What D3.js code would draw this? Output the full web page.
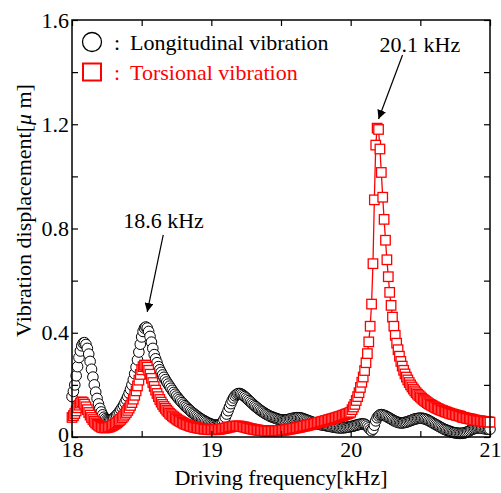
<!DOCTYPE html>
<html>
<head>
<meta charset="utf-8">
<script src="https://cdn.jsdelivr.net/npm/d3@7"></script>
<style>
  text, tspan { font-family: "Liberation Serif", "Times New Roman", serif; }
</style>
</head>
<body style="margin:0">
<div id="chart"></div>
<script>
// sweep: 18.00 -> 21.00 kHz, 0.01 kHz steps
const freq = d3.range(0, 301).map(i => 18 + i / 100);

const longitudinal = [
  0.155, 0.175, 0.2, 0.235, 0.27, 0.305, 0.33, 0.35, 0.36, 0.362,
  0.355, 0.34, 0.318, 0.29, 0.26, 0.23, 0.2, 0.172, 0.148, 0.127,
  0.11, 0.096, 0.085, 0.076, 0.07, 0.066, 0.064, 0.064, 0.066, 0.069,
  0.073, 0.078, 0.084, 0.09, 0.097, 0.105, 0.113, 0.122, 0.132, 0.143,
  0.155, 0.168, 0.183, 0.2, 0.22, 0.243, 0.268, 0.296, 0.326, 0.356,
  0.384, 0.405, 0.418, 0.422, 0.418, 0.405, 0.386, 0.364, 0.34, 0.316,
  0.3, 0.285, 0.27, 0.258, 0.248, 0.238, 0.229, 0.22, 0.211, 0.203,
  0.195, 0.187, 0.179, 0.171, 0.164, 0.157, 0.15, 0.144, 0.138, 0.132,
  0.126, 0.12, 0.115, 0.11, 0.105, 0.1, 0.095, 0.091, 0.087, 0.083,
  0.079, 0.075, 0.071, 0.068, 0.065, 0.062, 0.059, 0.056, 0.053, 0.051,
  0.049, 0.047, 0.046, 0.045, 0.045, 0.046, 0.048, 0.052, 0.058, 0.066,
  0.076, 0.088, 0.101, 0.115, 0.128, 0.14, 0.15, 0.158, 0.163, 0.166,
  0.167, 0.166, 0.163, 0.159, 0.155, 0.15, 0.145, 0.14, 0.135, 0.13,
  0.125, 0.12, 0.116, 0.111, 0.107, 0.103, 0.099, 0.096, 0.092, 0.089,
  0.086, 0.083, 0.08, 0.078, 0.076, 0.074, 0.072, 0.07, 0.068, 0.067,
  0.066, 0.065, 0.065, 0.065, 0.066, 0.067, 0.068, 0.07, 0.071, 0.072,
  0.073, 0.074, 0.074, 0.074, 0.073, 0.072, 0.07, 0.068, 0.066, 0.064,
  0.062, 0.06, 0.058, 0.056, 0.054, 0.052, 0.051, 0.049, 0.048, 0.047,
  0.046, 0.045, 0.044, 0.043, 0.042, 0.041, 0.04, 0.039, 0.038, 0.037,
  0.036, 0.036, 0.035, 0.035, 0.035, 0.036, 0.036, 0.037, 0.038, 0.039,
  0.04, 0.041, 0.042, 0.044, 0.045, 0.047, 0.048, 0.049, 0.05, 0.05,
  0.049, 0.046, 0.041, 0.035, 0.028, 0.024, 0.03, 0.045, 0.062, 0.074,
  0.081, 0.085, 0.086, 0.085, 0.083, 0.081, 0.078, 0.075, 0.072, 0.069,
  0.066, 0.063, 0.06, 0.058, 0.056, 0.055, 0.054, 0.054, 0.055, 0.056,
  0.057, 0.059, 0.061, 0.063, 0.065, 0.067, 0.069, 0.07, 0.071, 0.072,
  0.072, 0.072, 0.071, 0.07, 0.068, 0.066, 0.063, 0.06, 0.057, 0.054,
  0.051, 0.048, 0.045, 0.042, 0.039, 0.036, 0.033, 0.03, 0.028, 0.026,
  0.024, 0.022, 0.02, 0.018, 0.017, 0.016, 0.015, 0.014, 0.014, 0.014,
  0.014, 0.015, 0.016, 0.018, 0.02, 0.023, 0.026, 0.029, 0.031, 0.033,
  0.034, 0.035, 0.035, 0.035, 0.034, 0.033, 0.032, 0.031, 0.03, 0.03,
  0.03
];

const torsional = [
  0.075, 0.082, 0.09, 0.1, 0.112, 0.122, 0.13, 0.135, 0.133, 0.126,
  0.116, 0.105, 0.094, 0.084, 0.075, 0.067, 0.06, 0.054, 0.049, 0.045,
  0.041, 0.038, 0.036, 0.035, 0.035, 0.036, 0.037, 0.039, 0.041, 0.044,
  0.047, 0.05, 0.054, 0.058, 0.063, 0.068, 0.074, 0.08, 0.087, 0.094,
  0.102, 0.111, 0.121, 0.132, 0.145, 0.16, 0.177, 0.196, 0.218, 0.24,
  0.258, 0.27, 0.276, 0.275, 0.268, 0.256, 0.241, 0.225, 0.209, 0.194,
  0.18, 0.167, 0.155, 0.144, 0.134, 0.125, 0.117, 0.11, 0.103, 0.097,
  0.091, 0.086, 0.081, 0.077, 0.073, 0.069, 0.065, 0.062, 0.059, 0.056,
  0.053, 0.05, 0.048, 0.046, 0.044, 0.042, 0.04, 0.039, 0.037, 0.036,
  0.035, 0.034, 0.033, 0.032, 0.031, 0.03, 0.03, 0.029, 0.029, 0.028,
  0.028, 0.028, 0.028, 0.028, 0.029, 0.029, 0.03, 0.031, 0.032, 0.033,
  0.034, 0.035, 0.037, 0.038, 0.039, 0.04, 0.041, 0.042, 0.042, 0.042,
  0.042, 0.041, 0.04, 0.039, 0.038, 0.036, 0.035, 0.033, 0.032, 0.031,
  0.03, 0.029, 0.028, 0.027, 0.026, 0.025, 0.025, 0.024, 0.024, 0.023,
  0.023, 0.023, 0.023, 0.023, 0.023, 0.023, 0.024, 0.024, 0.024, 0.025,
  0.025, 0.026, 0.026, 0.027, 0.028, 0.029, 0.03, 0.031, 0.032, 0.033,
  0.034, 0.035, 0.036, 0.037, 0.038, 0.04, 0.041, 0.042, 0.043, 0.045,
  0.046, 0.047, 0.049, 0.05, 0.051, 0.053, 0.054, 0.056, 0.057, 0.058,
  0.06, 0.061, 0.063, 0.064, 0.066, 0.067, 0.069, 0.07, 0.072, 0.073,
  0.075, 0.077, 0.078, 0.08, 0.082, 0.084, 0.086, 0.088, 0.09, 0.092,
  0.095, 0.105, 0.115, 0.125, 0.14, 0.155, 0.17, 0.19, 0.21, 0.23,
  0.255, 0.285, 0.32, 0.365, 0.425, 0.51, 0.665, 0.91, 1.12, 1.185,
  1.18, 1.105, 1.015, 0.92, 0.835, 0.755, 0.68, 0.615, 0.555, 0.505,
  0.46, 0.425, 0.39, 0.36, 0.335, 0.31, 0.29, 0.272, 0.256, 0.242,
  0.23, 0.219, 0.209, 0.2, 0.192, 0.184, 0.177, 0.17, 0.164, 0.159,
  0.154, 0.149, 0.144, 0.14, 0.136, 0.132, 0.128, 0.125, 0.122, 0.119,
  0.116, 0.113, 0.11, 0.108, 0.105, 0.103, 0.101, 0.099, 0.097, 0.095,
  0.093, 0.091, 0.089, 0.088, 0.086, 0.085, 0.083, 0.082, 0.081, 0.079,
  0.076, 0.075, 0.074, 0.072, 0.071, 0.07, 0.069, 0.068, 0.066, 0.065,
  0.064, 0.063, 0.062, 0.062, 0.061, 0.06, 0.059, 0.059, 0.058, 0.058,
  0.057
];

const xTicks = [18, 18.5, 19, 19.5, 20, 20.5, 21];
const xTickLabels = ["18", "19", "20", "21"];
const yTicks = [0, 0.2, 0.4, 0.6, 0.8, 1, 1.2, 1.4, 1.6];
const yTickLabels = ["0", "0.4", "0.8", "1.2", "1.6"];

const seriesNames = ["Longitudinal vibration", "Torsional vibration"];

const W = 501, H = 493;
const margin = { top: 20, right: 11, bottom: 56, left: 72 };
const width = W - margin.left - margin.right;
const height = H - margin.top - margin.bottom;

const root = d3.select("#chart")
  .append("svg")
  .attr("width", W)
  .attr("height", H)
  .attr("font-family", "Liberation Serif");

const svg = root.append("g")
  .attr("transform", `translate(${margin.left},${margin.top})`);

const x = d3.scaleLinear().domain([18, 21]).range([0, width]);
const y = d3.scaleLinear().domain([0, 1.6]).range([height, 0]);

const lData = freq.map((f, i) => ({ f, v: longitudinal[i] }));
const tData = freq.map((f, i) => ({ f, v: torsional[i] }));

const line = d3.line().x(d => x(d.f)).y(d => y(d.v));

// longitudinal: open circles
svg.append("path")
  .datum(lData)
  .attr("fill", "none")
  .attr("stroke", "#000")
  .attr("stroke-width", 1)
  .attr("d", line);

svg.selectAll(".circ")
  .data(lData)
  .enter()
  .append("circle")
  .attr("class", "circ")
  .attr("cx", d => x(d.f))
  .attr("cy", d => y(d.v))
  .attr("r", 5.3)
  .attr("fill", "#fff")
  .attr("stroke", "#000")
  .attr("stroke-width", 1);

// torsional: open squares
svg.append("path")
  .datum(tData)
  .attr("fill", "none")
  .attr("stroke", "red")
  .attr("stroke-width", 1.3)
  .attr("d", line);

const sq = 9.5;
svg.selectAll(".sq")
  .data(tData)
  .enter()
  .append("rect")
  .attr("class", "sq")
  .attr("x", d => x(d.f) - sq / 2)
  .attr("y", d => y(d.v) - sq / 2)
  .attr("width", sq)
  .attr("height", sq)
  .attr("fill", "#fff")
  .attr("stroke", "red")
  .attr("stroke-width", 1.3);

// axes, ticks pointing inward
const fmtX = d => xTickLabels.includes(String(d)) ? String(d) : "";
const fmtY = d => {
  const s = d === 0 ? "0" : d.toFixed(1);
  return yTickLabels.includes(s) ? s : "";
};

function styleAxis(g) {
  g.select(".domain").remove();
  g.attr("font-family", "Liberation Serif").attr("font-size", 22);
  g.selectAll("line").attr("stroke", "#000").attr("stroke-width", 1.2);
  g.selectAll("text").attr("fill", "#000").attr("font-family", "Liberation Serif");
}

svg.append("g")
  .attr("transform", `translate(0,${height})`)
  .call(d3.axisBottom(x).tickValues(xTicks).tickSize(-6).tickPadding(4).tickFormat(fmtX))
  .call(styleAxis);

svg.append("g")
  .call(d3.axisTop(x).tickValues(xTicks).tickSize(-6).tickFormat(""))
  .call(styleAxis);

svg.append("g")
  .call(d3.axisLeft(y).tickValues(yTicks).tickSize(-6).tickPadding(3).tickFormat(fmtY))
  .call(styleAxis)
  .selectAll("text")
  .attr("dy", d => d === 0 ? "0.2em" : "0.32em");

svg.append("g")
  .attr("transform", `translate(${width},0)`)
  .call(d3.axisRight(y).tickValues(yTicks).tickSize(-6).tickFormat(""))
  .call(styleAxis);

svg.append("rect")
  .attr("width", width)
  .attr("height", height)
  .attr("fill", "none")
  .attr("stroke", "#000")
  .attr("stroke-width", 1.5);

// axis titles
svg.append("text")
  .attr("x", width / 2)
  .attr("y", height + 48)
  .attr("text-anchor", "middle")
  .attr("font-size", 22)
  .attr("font-family", "Liberation Serif")
  .text("Driving frequency[kHz]");

const yl = svg.append("text")
  .attr("transform", `translate(${31 - margin.left},${height / 2 - 18}) rotate(-90)`)
  .attr("text-anchor", "middle")
  .attr("font-size", 22)
  .attr("font-family", "Liberation Serif");
yl.append("tspan").text("Vibration displacement[");
yl.append("tspan").attr("font-style", "italic").text("μ");
yl.append("tspan").text(" m]");

// legend
const leg = svg.append("g")
  .attr("transform", `translate(${92 - margin.left},${42 - margin.top})`)
  .attr("font-size", 22)
  .attr("font-family", "Liberation Serif");
leg.append("circle")
  .attr("r", 9.5)
  .attr("fill", "#fff")
  .attr("stroke", "#000")
  .attr("stroke-width", 1.3);
leg.append("text").attr("x", 22).attr("y", 8).text(":");
leg.append("text").attr("x", 38).attr("y", 8).text(seriesNames[0]);

leg.append("rect")
  .attr("x", -9).attr("y", 30 - 8.5)
  .attr("width", 18).attr("height", 17)
  .attr("fill", "#fff")
  .attr("stroke", "red")
  .attr("stroke-width", 2);
leg.append("text").attr("x", 22).attr("y", 38).attr("fill", "red").text(":");
leg.append("text").attr("x", 38).attr("y", 38).attr("fill", "red").text(seriesNames[1]);

// annotations
root.append("defs").append("marker")
  .attr("id", "arrow")
  .attr("viewBox", "0 0 10 10")
  .attr("refX", 10).attr("refY", 5)
  .attr("markerWidth", 9).attr("markerHeight", 9)
  .attr("markerUnits", "userSpaceOnUse")
  .attr("orient", "auto")
  .append("path")
  .attr("d", "M0,0 L10,5 L0,10 Z")
  .attr("fill", "#000");

const notes = [
  { label: "20.1 kHz", f: 20.2, v: 1.22, dx: 24, dy: -64, tx: 1, ty: -67 },
  { label: "18.6 kHz", f: 18.54, v: 0.48, dx: 16, dy: -77, tx: -24, ty: -84 }
];
notes.forEach(n => {
  const px = x(n.f), py = y(n.v);
  svg.append("line")
    .attr("x1", px + n.dx).attr("y1", py + n.dy)
    .attr("x2", px).attr("y2", py)
    .attr("stroke", "#000")
    .attr("stroke-width", 1.2)
    .attr("marker-end", "url(#arrow)");
  svg.append("text")
    .attr("x", px + n.tx).attr("y", py + n.ty)
    .attr("font-size", 22)
    .attr("font-family", "Liberation Serif")
    .text(n.label);
});
</script>
</body>
</html>
